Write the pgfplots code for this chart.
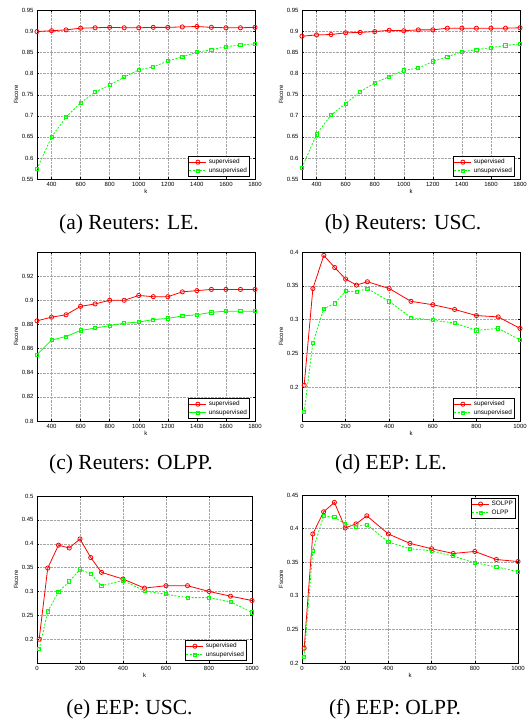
\documentclass[border=0pt]{standalone}
\usepackage{fontspec}
\setmainfont{Liberation Serif}
\newfontfamily\helv{Liberation Sans}
\usepackage{pgfplots}
\pgfplotsset{compat=1.18}
\newcommand\tickfont{\helv\fontsize{6}{7}\selectfont}
\newcommand\legfont{\helv\fontsize{6.4}{7}\selectfont}
\newcommand\capfont{\fontsize{21.5}{24}\selectfont}
\definecolor{mred}{rgb}{1,0,0}
\definecolor{mgreen}{rgb}{0,1,0}
\pgfplotsset{
  mstyle/.style={
    scale only axis, grid=major,
    major grid style={densely dotted, gray!70, line width=0.4pt},
    axis line style={line width=0.8pt},
    tick style={black, line width=0.4pt}, major tick length=2pt,
    tick label style={font=\tickfont}, label style={font=\tickfont},
    scaled ticks=false,
    /pgf/number format/1000 sep={},
    /pgf/number format/assume math mode=true,
    xlabel=k, ylabel=Fscore,
    ylabel style={at={([xshift=-21pt]axis description cs:0,0.5)}, anchor=center},
    xlabel style={at={([yshift=-12.5pt]axis description cs:0.5,0)}, anchor=center},
    legend cell align=left,
    legend style={font=\legfont, draw=black, line width=0.8pt, inner sep=0.7pt, row sep=-1.5pt},
  },
  redl/.style={color=mred, line width=0.8pt, mark=o, mark size=2.1pt, mark options={solid}},
  greenl/.style={color=mgreen, line width=0.8pt, dash pattern=on 2pt off 1.5pt, mark=square, mark size=1.6pt, mark options={solid}},
  greens/.style={color=mgreen, line width=0.8pt, mark=square, mark size=1.6pt, mark options={solid}},
  reut/.style={xmin=300, xmax=1800, xtick={400,600,800,1000,1200,1400,1600,1800}},
  eep/.style={xmin=0, xmax=1000, xtick={0,200,400,600,800,1000}},
  legSE/.style={legend style={at={(1,0)}, anchor=south east, xshift=-5pt, yshift=2pt}},
}
\begin{document}
\begin{tikzpicture}
\path[use as bounding box] (0,0) rectangle (527pt,-720pt);
% (a)
\begin{axis}[mstyle, reut, legSE, at={(37pt,-179pt)}, anchor=south west, width=218pt, height=168.5pt,
  ymin=0.55, ymax=0.95, ytick={0.55,0.6,0.65,0.7,0.75,0.8,0.85,0.9,0.95}]
\addplot[redl] coordinates {(300,0.900)(400,0.902)(500,0.904)(600,0.908)(700,0.909)(800,0.910)(900,0.909)(1000,0.909)(1100,0.910)(1200,0.910)(1300,0.911)(1400,0.912)(1500,0.910)(1600,0.909)(1700,0.909)(1800,0.910)};
\addlegendentry{supervised}
\addplot[greenl] coordinates {(300,0.574)(400,0.650)(500,0.697)(600,0.731)(700,0.756)(800,0.773)(900,0.792)(1000,0.809)(1100,0.816)(1200,0.830)(1300,0.840)(1400,0.851)(1500,0.857)(1600,0.864)(1700,0.868)(1800,0.871)};
\addlegendentry{unsupervised}
\end{axis}
% (b)
\begin{axis}[mstyle, reut, legSE, at={(302pt,-179pt)}, anchor=south west, width=218pt, height=168.5pt,
  ymin=0.55, ymax=0.95, ytick={0.55,0.6,0.65,0.7,0.75,0.8,0.85,0.9,0.95}]
\addplot[redl] coordinates {(300,0.889)(400,0.892)(500,0.893)(600,0.897)(700,0.898)(800,0.900)(900,0.903)(1000,0.902)(1100,0.904)(1200,0.904)(1300,0.908)(1400,0.908)(1500,0.908)(1600,0.908)(1700,0.908)(1800,0.909)};
\addlegendentry{supervised}
\addplot[greenl] coordinates {(300,0.577)(400,0.656)(500,0.702)(600,0.729)(700,0.757)(800,0.778)(900,0.793)(1000,0.808)(1100,0.813)(1200,0.829)(1300,0.840)(1400,0.852)(1500,0.857)(1600,0.862)(1700,0.867)(1800,0.871)};
\addlegendentry{unsupervised}
\end{axis}
% (c)
\begin{axis}[mstyle, reut, legSE, at={(37pt,-421pt)}, anchor=south west, width=218pt, height=169pt,
  ymin=0.8, ymax=0.94, ytick={0.8,0.82,0.84,0.86,0.88,0.9,0.92}]
\addplot[redl] coordinates {(300,0.883)(400,0.886)(500,0.888)(600,0.895)(700,0.897)(800,0.900)(900,0.900)(1000,0.904)(1100,0.903)(1200,0.903)(1300,0.907)(1400,0.908)(1500,0.909)(1600,0.909)(1700,0.909)(1800,0.909)};
\addlegendentry{supervised}
\addplot[greens] coordinates {(300,0.855)(400,0.867)(500,0.870)(600,0.875)(700,0.877)(800,0.879)(900,0.881)(1000,0.882)(1100,0.884)(1200,0.885)(1300,0.887)(1400,0.888)(1500,0.890)(1600,0.891)(1700,0.891)(1800,0.891)};
\addlegendentry{unsupervised}
\end{axis}
% (d)
\begin{axis}[mstyle, eep, legSE, at={(302pt,-421pt)}, anchor=south west, width=218pt, height=169pt,
  ymin=0.15, ymax=0.4, ytick={0.2,0.25,0.3,0.35,0.4}]
\addplot[redl] coordinates {(10,0.203)(50,0.346)(100,0.395)(150,0.377)(200,0.360)(250,0.351)(300,0.356)(400,0.346)(500,0.327)(600,0.322)(700,0.315)(800,0.306)(900,0.304)(1000,0.287)};
\addlegendentry{supervised}
\addplot[greenl] coordinates {(10,0.163)(50,0.266)(100,0.316)(150,0.324)(200,0.342)(250,0.341)(300,0.346)(400,0.327)(500,0.303)(600,0.299)(700,0.295)(800,0.284)(900,0.287)(1000,0.270)};
\addlegendentry{unsupervised}
\end{axis}
% (e)
\begin{axis}[mstyle, eep, legSE, at={(37pt,-663pt)}, anchor=south west, width=215pt, height=167pt,
  ymin=0.15, ymax=0.5, ytick={0.2,0.25,0.3,0.35,0.4,0.45,0.5}]
\addplot[redl] coordinates {(10,0.200)(50,0.349)(100,0.397)(150,0.391)(200,0.410)(250,0.371)(300,0.340)(400,0.326)(500,0.307)(600,0.312)(700,0.312)(800,0.300)(900,0.290)(1000,0.281)};
\addlegendentry{supervised}
\addplot[greenl] coordinates {(10,0.179)(50,0.258)(100,0.299)(150,0.321)(200,0.346)(250,0.337)(300,0.312)(400,0.323)(500,0.301)(600,0.294)(700,0.287)(800,0.287)(900,0.278)(1000,0.256)};
\addlegendentry{unsupervised}
\end{axis}
% (f)
\begin{axis}[mstyle, eep, at={(302pt,-663pt)}, anchor=south west, width=216pt, height=168pt,
  ymin=0.2, ymax=0.45, ytick={0.2,0.25,0.3,0.35,0.4,0.45},
  legend style={at={(1,1)}, anchor=north east, xshift=-2pt, yshift=-3pt}]
\addplot[redl] coordinates {(10,0.222)(50,0.392)(100,0.425)(150,0.439)(200,0.401)(250,0.407)(300,0.419)(400,0.392)(500,0.378)(600,0.370)(700,0.363)(800,0.366)(900,0.354)(1000,0.351)};
\addlegendentry{SOLPP}
\addplot[greenl] coordinates {(10,0.209)(50,0.367)(100,0.419)(150,0.417)(200,0.407)(250,0.403)(300,0.406)(400,0.380)(500,0.370)(600,0.367)(700,0.359)(800,0.349)(900,0.343)(1000,0.336)};
\addlegendentry{OLPP}
\end{axis}
% captions
\node[anchor=base, font=\capfont] at (129pt,-229pt) {(a) Reuters: LE.};
\node[anchor=base, font=\capfont] at (403pt,-229pt) {(b) Reuters: USC.};
\node[anchor=base, font=\capfont] at (131pt,-469pt) {(c) Reuters: OLPP.};
\node[anchor=base, font=\capfont] at (391pt,-469pt) {(d) EEP: LE.};
\node[anchor=base, font=\capfont] at (129.5pt,-714pt) {(e) EEP: USC.};
\node[anchor=base, font=\capfont] at (395pt,-714pt) {(f) EEP: OLPP.};
\end{tikzpicture}
\end{document}
